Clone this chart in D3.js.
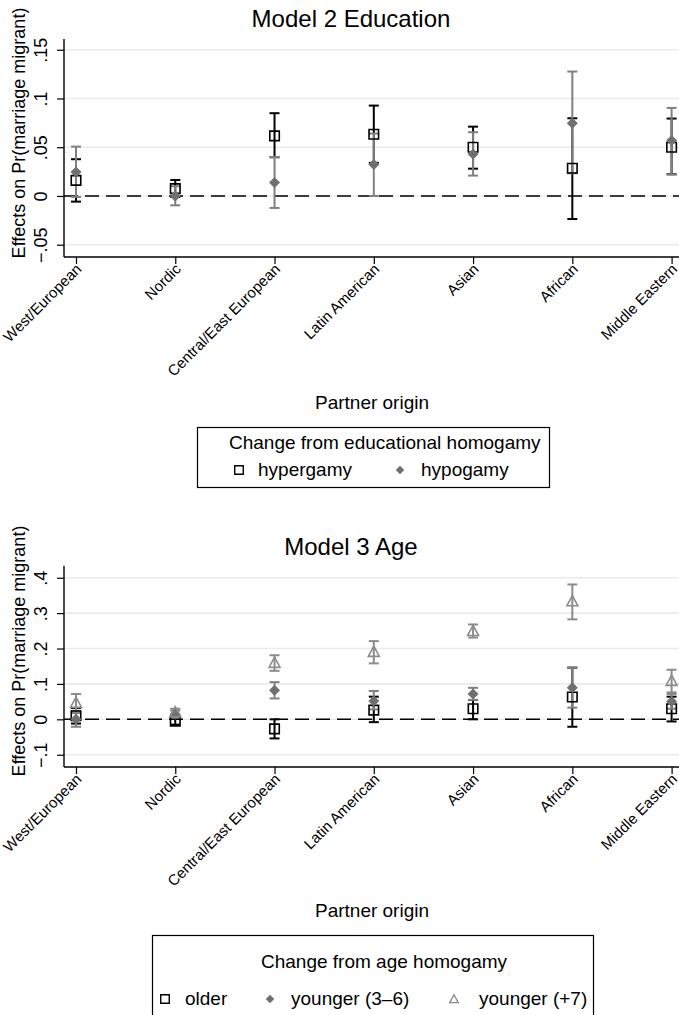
<!DOCTYPE html>
<html>
<head>
<meta charset="utf-8">
<script src="https://cdn.jsdelivr.net/npm/d3@7"></script>
<style>
  html, body { margin: 0; padding: 0; background: #fff; }
  svg { display: block; font-family: "Liberation Sans", Arial, Helvetica, sans-serif; }
</style>
</head>
<body>
<svg id="chart" width="679" height="1015"></svg>
<script>
// ---------- DATA ----------
const categories = ["West/European", "Nordic", "Central/East European", "Latin American", "Asian", "African", "Middle Eastern"];

// Model 2 Education
const eduTicks = [-0.05, 0, 0.05, 0.1, 0.15];
const eduTickLabels = ["\u2212.05", "0", ".05", ".1", ".15"];
const hyperEst = [0.016, 0.0075, 0.0616, 0.0633, 0.050, 0.0284, 0.050];
const hyperLo  = [-0.0058, -0.001, 0.0397, 0.034, 0.028, -0.0236, 0.0223];
const hyperHi  = [0.0377, 0.0164, 0.0849, 0.0927, 0.0711, 0.0797, 0.0794];
const hypoEst  = [0.0246, 0.0, 0.0137, 0.0322, 0.0431, 0.0746, 0.0568];
const hypoLo   = [-0.001, -0.0096, -0.0123, 0.0, 0.0209, 0.0233, 0.022];
const hypoHi   = [0.0506, 0.010, 0.040, 0.064, 0.0654, 0.1276, 0.0903];

// Model 3 Age
const ageTicks = [-0.1, 0, 0.1, 0.2, 0.3, 0.4];
const ageTickLabels = ["\u2212.1", "0", ".1", ".2", ".3", ".4"];
const olderEst = [0.010, -0.005, -0.027, 0.026, 0.030, 0.063, 0.030];
const olderLo  = [-0.012, -0.015, -0.054, -0.008, 0.0, -0.021, -0.006];
const olderHi  = [0.032, 0.005, 0.0, 0.064, 0.0545, 0.146, 0.064];
const young36Est = [0.0, 0.015, 0.082, 0.052, 0.0715, 0.089, 0.050];
const young36Lo  = [-0.021, 0.005, 0.059, 0.028, 0.055, 0.033, 0.030];
const young36Hi  = [0.018, 0.025, 0.105, 0.080, 0.089, 0.146, 0.072];
const young7Est = [0.047, 0.020, 0.160, 0.191, 0.250, 0.334, 0.109];
const young7Lo  = [0.024, 0.010, 0.137, 0.158, 0.231, 0.2825, 0.076];
const young7Hi  = [0.0715, 0.030, 0.181, 0.221, 0.268, 0.381, 0.140];

// ---------- STYLE ----------
const BLACK = "#000";
const DIAMOND = "#707070";
const DIAMOND_CI = "#808080";
const TRI = "#8c8c8c";
const GRID = "#ebebeb";

const svg = d3.select("#chart");

function markerPath(shape, size) {
  const h = size / 2;
  if (shape === "square") return `M${-h},${-h}H${h}V${h}H${-h}Z`;
  if (shape === "diamond") return `M0,${-h}L${h},0L0,${h}L${-h},0Z`;
  if (shape === "triangle") return `M0,${-h}L${h},${h*0.85}L${-h},${h*0.85}Z`;
}

function markerStyle(sel, shape, color) {
  if (shape === "diamond") sel.attr("fill", color).attr("stroke", "none");
  else sel.attr("fill", "none").attr("stroke", color).attr("stroke-width", 1.6);
}

function drawPanel(cfg) {
  const g = svg.append("g");
  const x = d3.scalePoint().domain(categories).range([76, 671.6]);
  const y = d3.scaleLinear().domain(cfg.domain).range([cfg.bottom, cfg.top]);
  const left = 64, right = 679;

  // title
  g.append("text").attr("x", 351).attr("y", cfg.titleY).attr("text-anchor", "middle")
    .attr("font-size", 24).text(cfg.title);

  // gridlines
  g.selectAll(".grid").data(cfg.ticks).join("line")
    .attr("x1", left).attr("x2", right)
    .attr("y1", d => y(d)).attr("y2", d => y(d))
    .attr("stroke", GRID).attr("stroke-width", 1.6);

  // zero dashed line
  g.append("line").attr("x1", left).attr("x2", right)
    .attr("y1", y(0)).attr("y2", y(0))
    .attr("stroke", "#000").attr("stroke-width", 1.6).attr("stroke-dasharray", "14,7");

  // y axis
  const ya = g.append("g").attr("transform", `translate(${left},0)`)
    .call(d3.axisLeft(y).tickValues(cfg.ticks).tickFormat((d, i) => cfg.tickLabels[i]).tickSize(7).tickSizeOuter(0));
  ya.select(".domain").remove();
  ya.append("line").attr("x1", 0).attr("x2", 0).attr("y1", cfg.top).attr("y2", cfg.bottom)
    .attr("stroke", "#000").attr("stroke-width", 1.4);
  ya.selectAll(".tick line").attr("stroke-width", 1.2);
  ya.selectAll(".tick text").attr("x", 0).attr("dy", 0).attr("y", 0)
    .attr("transform", "translate(-17,0) rotate(-90)")
    .attr("text-anchor", "middle").attr("font-size", 18).attr("fill", "#000")
    .attr("font-family", "Liberation Sans, Arial, sans-serif");

  // x axis
  const xa = g.append("g").attr("transform", `translate(0,${cfg.bottom})`)
    .call(d3.axisBottom(x).tickSize(7).tickSizeOuter(0));
  xa.select(".domain").remove();
  xa.append("line").attr("x1", left).attr("x2", right).attr("y1", 0).attr("y2", 0)
    .attr("stroke", "#000").attr("stroke-width", 1.4);
  xa.selectAll(".tick line").attr("stroke-width", 1.2);
  xa.selectAll(".tick text").attr("x", 0).attr("y", 0).attr("dy", 0)
    .attr("transform", "translate(6,13) rotate(-45)")
    .attr("text-anchor", "end").attr("font-size", 15).attr("fill", "#000")
    .attr("font-family", "Liberation Sans, Arial, sans-serif");

  // y axis title
  g.append("text").attr("transform", `translate(25,${cfg.ylabelY}) rotate(-90)`)
    .attr("text-anchor", "middle").attr("font-size", 18)
    .text("Effects on Pr(marriage migrant)");

  // x axis title
  g.append("text").attr("x", 372).attr("y", cfg.xtitleY).attr("text-anchor", "middle")
    .attr("font-size", 19).text("Partner origin");

  // CIs
  cfg.series.forEach(s => {
    const cg = g.append("g");
    categories.forEach((c, i) => {
      const cx = x(c);
      cg.append("line").attr("x1", cx).attr("x2", cx).attr("y1", y(s.lo[i])).attr("y2", y(s.hi[i]))
        .attr("stroke", s.ciColor).attr("stroke-width", 2);
      [s.lo[i], s.hi[i]].forEach(v => {
        cg.append("line").attr("x1", cx - 5).attr("x2", cx + 5).attr("y1", y(v)).attr("y2", y(v))
          .attr("stroke", s.ciColor).attr("stroke-width", 2);
      });
    });
  });
  // markers
  cfg.series.forEach(s => {
    g.append("g").selectAll("path").data(s.est).join("path")
      .attr("transform", (d, i) => `translate(${x(categories[i])},${y(d)})`)
      .attr("d", markerPath(s.shape, s.size))
      .call(sel => markerStyle(sel, s.shape, s.color));
  });

  // legend
  const L = cfg.legend;
  g.append("rect").attr("x", L.x).attr("y", L.y).attr("width", L.w).attr("height", L.h)
    .attr("fill", "#fff").attr("stroke", "#000").attr("stroke-width", 1.2);
  g.append("text").attr("x", L.titleX).attr("y", L.titleY).attr("font-size", 19).text(L.title);
  L.items.forEach(it => {
    g.append("path").attr("transform", `translate(${it.mx},${L.itemY - 6})`)
      .attr("d", markerPath(it.shape, 8.5))
      .call(sel => markerStyle(sel, it.shape, it.color))
      .attr("stroke-width", it.shape === "diamond" ? 0 : 1.4);
    g.append("text").attr("x", it.tx).attr("y", L.itemY).attr("font-size", 19).text(it.label);
  });
}

drawPanel({
  title: "Model 2 Education", titleY: 27,
  domain: [-0.0626, 0.161], top: 39, bottom: 257,
  ticks: eduTicks, tickLabels: eduTickLabels,
  ylabelY: 133, xtitleY: 409,
  series: [
    { est: hyperEst, lo: hyperLo, hi: hyperHi, shape: "square", size: 9.5, color: BLACK, ciColor: BLACK },
    { est: hypoEst, lo: hypoLo, hi: hypoHi, shape: "diamond", size: 11, color: DIAMOND, ciColor: DIAMOND_CI }
  ],
  legend: {
    x: 197.5, y: 427.5, w: 352, h: 60,
    title: "Change from educational homogamy", titleX: 229, titleY: 449,
    itemY: 476,
    items: [
      { shape: "square", color: BLACK, mx: 239, tx: 258, label: "hypergamy" },
      { shape: "diamond", color: DIAMOND, mx: 400, tx: 421, label: "hypogamy" }
    ]
  }
});

drawPanel({
  title: "Model 3 Age", titleY: 555,
  domain: [-0.1347, 0.434], top: 565.7, bottom: 767,
  ticks: ageTicks, tickLabels: ageTickLabels,
  ylabelY: 651, xtitleY: 917,
  series: [
    { est: olderEst, lo: olderLo, hi: olderHi, shape: "square", size: 9.5, color: BLACK, ciColor: BLACK },
    { est: young36Est, lo: young36Lo, hi: young36Hi, shape: "diamond", size: 11, color: DIAMOND, ciColor: DIAMOND_CI },
    { est: young7Est, lo: young7Lo, hi: young7Hi, shape: "triangle", size: 11, color: TRI, ciColor: TRI }
  ],
  legend: {
    x: 152.5, y: 935.5, w: 441, h: 95,
    title: "Change from age homogamy", titleX: 261, titleY: 968,
    itemY: 1005,
    items: [
      { shape: "square", color: BLACK, mx: 165, tx: 185, label: "older" },
      { shape: "diamond", color: DIAMOND, mx: 270, tx: 291, label: "younger (3\u20136)" },
      { shape: "triangle", color: TRI, mx: 454, tx: 479, label: "younger (+7)" }
    ]
  }
});
</script>
</body>
</html>
